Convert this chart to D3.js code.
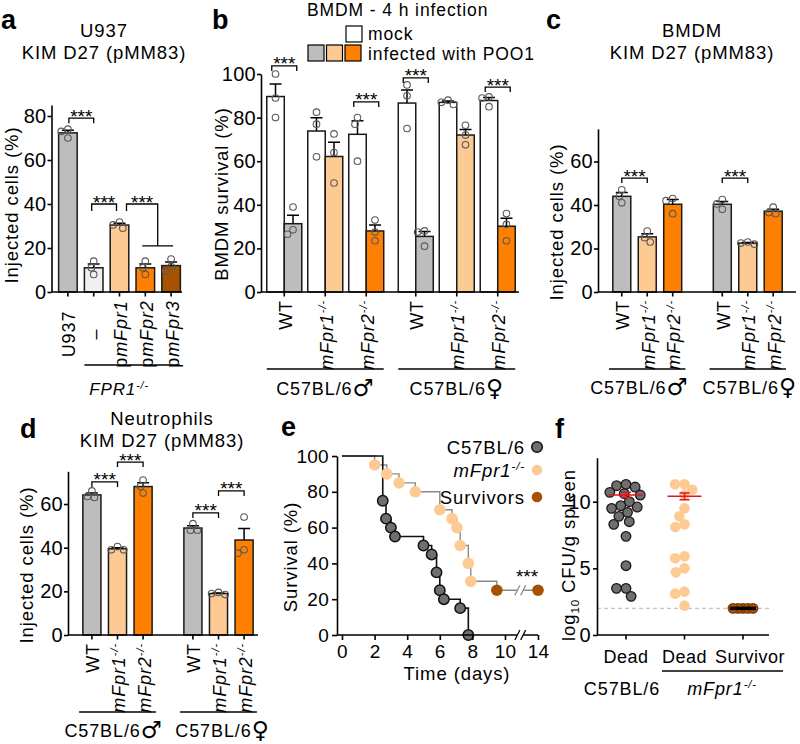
<!DOCTYPE html>
<html><head><meta charset="utf-8">
<script src="https://cdn.jsdelivr.net/npm/d3@7/dist/d3.min.js"></script>
<style>
html,body{margin:0;padding:0;background:#fff;}
svg{display:block;}
svg text{font-family:"Liberation Sans",Arial,Helvetica,sans-serif;letter-spacing:0.9px;}
</style></head><body>
<script>
// ===================== DATA =====================
// panel a
const aCategories = ["U937", "–", "pmFpr1", "pmFpr2", "pmFpr3"];
const aPoints = [[74, 73, 70], [14, 11, 8], [31.8, 30.5, 29], [14, 11, 8], [15, 11.5, 9.5]];
const aTicks = [0, 20, 40, 60, 80];
const aBrackets = [{from: 0, to: 1, level: 79}, {from: 1, to: 2, level: 40}];
const aGroupBracket = {from: 2, group: [3, 4], level: 40, groupLevel: 21};
// panels b, c, d
const sexLabels = ["C57BL/6", "C57BL/6"];
const sexSymbols = ["♂", "♀"];
const genotypes = ["WT", "mFpr1", "mFpr2"];
const bMockPoints = [
  [[100, 89, 80], [82.5, 77, 62], [80, 77, 60]],
  [[95, 90, 75], [88, 87, 86], [89.5, 89, 85]]];
const bInfectedPoints = [
  [[39, 28.5, 26.5], [72.5, 64, 50], [33, 27.5, 23.5]],
  [[28, 27.5, 21], [76.5, 72, 67.5], [36, 31, 23.5]]];
const bTicks = [0, 20, 40, 60, 80, 100];
const bBrackets = [{sex: 0, gen: 0, level: 103.7}, {sex: 0, gen: 2, level: 87.2}, {sex: 1, gen: 0, level: 98.2}, {sex: 1, gen: 2, level: 94}];
const cPoints = [
  [[47, 44, 41], [28, 25, 23], [43, 42, 36]],
  [[42.5, 40.5, 38], [23, 22.5, 22], [39, 36.5, 36]]];
const cTicks = [0, 20, 40, 60];
const cBrackets = [{sex: 0, from: 0, to: 1, level: 52.4}, {sex: 1, from: 0, to: 1, level: 52.4}];
const dPoints = [
  [[66, 63.5, 63], [40.5, 39, 39], [71, 68, 65]],
  [[51, 48, 48], [19.5, 19, 18.5], [54, 39, 37.5]]];
const dTicks = [0, 20, 40, 60];
const dBrackets = [{sex: 0, from: 0, to: 1, level: 70.1}, {sex: 0, from: 1, to: 2, level: 79.2},
                   {sex: 1, from: 0, to: 1, level: 55.9}, {sex: 1, from: 1, to: 2, level: 66}];
// panel e (Kaplan-Meier)
const eTimeTicks = [0, 2, 4, 6, 8, 10, 14];
const eSurvTicks = [0, 20, 40, 60, 80, 100];
const eC57Time = [0, 2.5, 2.7, 3.0, 3.25, 5.0, 5.5, 5.8, 6.0, 6.25, 7.25, 7.75];
const eC57Surv = [100, 75, 65, 60, 55, 50, 45, 35, 25, 20, 15, 0];
const eKoTime = [0, 2, 2.75, 3.5, 4.5, 6, 6.75, 7.05, 7.25, 7.75, 7.9, 9.5, 14];
const eKoSurv = [100, 95, 90, 85, 80, 70, 65, 60, 50, 40, 30, 25, 25];
const eKoSurvivor = [false, false, false, false, false, false, false, false, false, false, false, true, true];
const eBreak = [11.5, 12.2];
// panel f
const fGroups = ["Dead", "Dead", "Survivor"];
const fC57Dead = [11.3, 11.2, 11.1, 10.7, 10.6, 10.5, 10.0, 9.7, 9.6, 9.5, 9.2, 8.9, 8.5, 8.3, 7.4, 5.2, 3.5, 3.5, 2.9];
const fKoDead = [11.3, 11.3, 10.9, 10.5, 9.5, 8.9, 8.3, 8.1, 5.9, 5.75, 5.0, 4.7, 3.25, 3.1, 2.2];
const fKoSurvivor = [2, 2, 2, 2, 2];
const fCenter = [10.5, 10.4, 2.0];
const fCenterSEM = [0.2, 0.25, 0];
const fTicks = [0, 5, 10];
const fDetectionLimit = 2;

// ===================== STYLE =====================
const C = {gray: "#bdbdbd", light: "#f0f0f0", peach: "#fdca93", orange: "#ff8000", brown: "#a65200", dark: "#6f6f6f"};
const genColors = [C.gray, C.peach, C.orange];
const aColors = [C.gray, C.light, C.peach, C.orange, C.brown];
const TICK = 20, TITLE = 18.5, XLAB = 18, YTITLE = 18.5, LETTER = 27;

const svg = d3.select("body").append("svg").attr("width", 800).attr("height", 744);
svg.append("rect").attr("width", 800).attr("height", 744).attr("fill", "#fff");

function label(parent, x, y, segs, o = {}) {
  const t = parent.append("text")
    .attr("transform", `translate(${x},${y})${o.rotate ? " rotate(-90)" : ""}`)
    .attr("text-anchor", o.anchor || "middle")
    .attr("fill", "#000")
    .style("font-size", (o.size || 17) + "px");
  if (o.bold) t.style("font-weight", "bold");
  if (o.ls !== undefined) t.style("letter-spacing", o.ls + "px");
  (typeof segs === "string" ? [{t: segs}] : segs).forEach(s => {
    const ts = t.append("tspan").text(s.t);
    if (s.i) ts.style("font-style", "italic");
    if (s.sup) ts.style("font-size", "62%").attr("dy", "-0.6em");
    if (s.sub) ts.style("font-size", "62%").attr("dy", "4");
    if (s.dy) ts.attr("dy", s.dy);
    if (s.sym) ts.style("font-size", "130%").style("font-family", "'DejaVu Sans',sans-serif").attr("dy", "1");
  });
  return t;
}
function genoSegs(gname) {
  if (gname === "WT") return [{t: "WT"}];
  return [{t: gname, i: 1}, {t: "-/-", i: 1, sup: 1}];
}
function catSegs(c) {
  if (c.startsWith("pm")) return [{t: "p"}, {t: c.slice(1), i: 1}];
  return [{t: c}];
}
function styleAxis(ax, size = TICK) {
  ax.attr("font-family", null).attr("font-size", null);
  ax.select(".domain").attr("stroke", "#000").attr("stroke-width", 1.6);
  ax.selectAll(".tick line").attr("stroke", "#000").attr("stroke-width", 1.6);
  ax.selectAll(".tick text").attr("fill", "#000").style("font-size", size + "px").style("letter-spacing", "0.3px");
  return ax;
}
function yAxis(g, x, scale, ticks, pad = 1, size = 4, fs = TICK) {
  return styleAxis(g.append("g").attr("transform", `translate(${x},0)`)
    .call(d3.axisLeft(scale).tickValues(ticks).tickSize(size).tickSizeOuter(0).tickPadding(pad)), fs);
}
function xAxisLine(g, x0, x1, y0, tickXs) {
  let d = `M${x0},${y0}H${x1}`;
  tickXs.forEach(t => { d += `M${t},${y0}V${y0 + 4.5}`; });
  g.append("path").attr("d", d).attr("stroke", "#000").attr("stroke-width", 1.6).attr("fill", "none");
}
function swarm(values, yScale, diam) {
  const idx = values.map((v, i) => i).sort((a, b) => values[b] - values[a]);
  const placed = [], off = new Array(values.length);
  for (const i of idx) {
    const py = yScale(values[i]);
    const cands = [0];
    for (const p of placed) {
      const dy = py - p.y;
      if (Math.abs(dy) < diam) { const dx = Math.sqrt(diam * diam - dy * dy); cands.push(p.x + dx, p.x - dx); }
    }
    cands.sort((a, b) => Math.abs(a) - Math.abs(b) || a - b);
    let chosen = 0;
    for (const c of cands) {
      if (placed.every(p => (p.x - c) ** 2 + (p.y - py) ** 2 >= diam * diam - 0.01)) { chosen = c; break; }
    }
    placed.push({x: chosen, y: py}); off[i] = chosen;
  }
  return off;
}
function drawBar(g, cx, w, color, pts, y) {
  const m = d3.mean(pts), se = d3.deviation(pts) / Math.sqrt(pts.length);
  g.append("rect").attr("x", cx - w / 2).attr("y", y(m)).attr("width", w).attr("height", y(0) - y(m))
    .attr("fill", color).attr("stroke", "#1a1a1a").attr("stroke-width", 1.5);
  const top = y(m + se);
  g.append("path").attr("d", `M${cx},${y(m)}V${top}M${cx - 6},${top}H${cx + 6}`)
    .attr("stroke", "#000").attr("stroke-width", 1.5).attr("fill", "none");
  const offs = swarm(pts, y, 7);
  g.selectAll(null).data(pts).join("circle")
    .attr("cx", (d, i) => cx + offs[i]).attr("cy", d => y(d)).attr("r", 3.3)
    .attr("fill", "none").attr("stroke", "#5a5a5a").attr("stroke-width", 1.1);
}
function stars(g, x, yl) { label(g, x, yl + 4.5, "***", {size: 19, ls: 0}); }
function bracket(g, x1, x2, yl, tip = 6) {
  g.append("path").attr("d", `M${x1},${yl + tip}V${yl}H${x2}V${yl + tip}`)
    .attr("stroke", "#000").attr("stroke-width", 1.3).attr("fill", "none");
  stars(g, (x1 + x2) / 2, yl);
}
const sexSegs = s => [{t: sexLabels[s]}, {t: sexSymbols[s], sym: 1}];

// ===================== PANEL a =====================
{
  const g = svg.append("g");
  const y = d3.scaleLinear().domain([0, 85]).range([292, 105]);
  const x = d3.scaleBand().domain(aCategories).range([55, 184]).paddingInner(0.28).paddingOuter(0.14);
  const cx = c => x(c) + x.bandwidth() / 2;
  aCategories.forEach((c, i) => drawBar(g, cx(c), x.bandwidth(), aColors[i], aPoints[i], y));
  yAxis(g, 51.5, y, aTicks);
  xAxisLine(g, 51.5, 182, y(0), aCategories.map(cx));
  aBrackets.forEach((b, k) => bracket(g, cx(aCategories[b.from]) + (k ? -2 : 1), cx(aCategories[b.to]) + (k ? -3 : 0), y(b.level), k ? 7 : 5));
  {
    const b = aGroupBracket;
    const x1 = cx(aCategories[b.from]) + 7;
    const gx1 = cx(aCategories[b.group[0]]) - 3, gx2 = cx(aCategories[b.group[1]]) + 2;
    const x2 = (gx1 + gx2) / 2;
    g.append("path").attr("d", `M${x1},${y(b.level) + 7}V${y(b.level)}H${x2}V${y(b.groupLevel)}M${gx1},${y(b.groupLevel)}H${gx2}`)
      .attr("stroke", "#000").attr("stroke-width", 1.3).attr("fill", "none");
    stars(g, (x1 + x2) / 2, y(b.level));
  }
  aCategories.forEach(c => label(g, cx(c) + 7.5, 334, catSegs(c), {rotate: true, size: XLAB}));
  g.append("line").attr("x1", x(aCategories[1])).attr("x2", 180).attr("y1", 365).attr("y2", 365).attr("stroke", "#000").attr("stroke-width", 1.3);
  label(g, 119, 395, [{t: "FPR1", i: 1}, {t: "-/-", i: 1, sup: 1}], {size: 17});
  label(g, 1, 29, "a", {anchor: "start", bold: true, size: LETTER, ls: 0});
  label(g, 104, 37, "U937", {size: TITLE});
  label(g, 104, 59, "KIM D27 (pMM83)", {size: TITLE});
  label(g, 18, 205, "Injected cells (%)", {rotate: true, size: YTITLE});
}

// ===================== PANEL b =====================
{
  const g = svg.append("g");
  const y = d3.scaleLinear().domain([0, 100]).range([292, 74]);
  const xs = d3.scaleBand().domain(d3.range(2)).range([262, 520]).paddingInner(0.065).paddingOuter(0.0135);
  const xg = d3.scaleBand().domain(d3.range(3)).range([0, xs.bandwidth()]).paddingInner(0.146).paddingOuter(0.073);
  const xc = d3.scaleBand().domain(["mock", "inf"]).range([0, xg.bandwidth()]);
  const pairStart = (s, k) => xs(s) + xg(k);
  const ticks = [];
  for (let s = 0; s < 2; s++) for (let k = 0; k < 3; k++) {
    const p0 = pairStart(s, k);
    drawBar(g, p0 + xc("mock") + xc.bandwidth() / 2, xc.bandwidth(), "#fff", bMockPoints[s][k], y);
    drawBar(g, p0 + xc("inf") + xc.bandwidth() / 2, xc.bandwidth(), genColors[k], bInfectedPoints[s][k], y);
    ticks.push(p0 + xg.bandwidth() / 2);
  }
  yAxis(g, 261, y, bTicks);
  xAxisLine(g, 261, 519, y(0), ticks);
  bBrackets.forEach(b => {
    const p0 = pairStart(b.sex, b.gen);
    bracket(g, p0 + 5, p0 + xg.bandwidth() - 5, y(b.level), 5);
  });
  for (let s = 0; s < 2; s++) {
    for (let k = 0; k < 3; k++) label(g, pairStart(s, k) + xg.bandwidth() / 2 + 7.5, 300, genoSegs(genotypes[k]), {rotate: true, anchor: "end", size: XLAB});
    g.append("line").attr("x1", pairStart(s, 0)).attr("x2", pairStart(s, 2) + xg.bandwidth())
      .attr("y1", 369).attr("y2", 369).attr("stroke", "#000").attr("stroke-width", 1.3);
    label(g, xs(s) + xs.bandwidth() / 2, 395, sexSegs(s), {size: 18});
  }
  label(g, 212, 29, "b", {anchor: "start", bold: true, size: LETTER, ls: 0});
  label(g, 307, 16, "BMDM - 4 h infection", {anchor: "start", size: 17.5});
  // legend
  g.append("rect").attr("x", 346).attr("y", 26).attr("width", 16).attr("height", 16).attr("fill", "#fff").attr("stroke", "#000").attr("stroke-width", 1.2);
  genColors.forEach((c, i) => g.append("rect").attr("x", 308 + i * 18.5).attr("y", 45).attr("width", 16).attr("height", 16)
    .attr("fill", c).attr("stroke", "#000").attr("stroke-width", 1.2));
  label(g, 368, 39.5, "mock", {anchor: "start", size: 17.5});
  label(g, 368, 59.5, "infected with POO1", {anchor: "start", size: 17.5});
  label(g, 228, 194, "BMDM survival (%)", {rotate: true, size: YTITLE});
}

// ===================== PANELS c & d =====================
function tripletPanel(o) {
  const g = svg.append("g");
  const y = d3.scaleLinear().domain([0, 75]).range([o.y0, o.y0 - 75 * o.k]);
  const xs = d3.scaleBand().domain(d3.range(2)).range(o.xr).paddingInner(0.24).paddingOuter(0.11);
  const xg = d3.scaleBand().domain(d3.range(3)).range([0, xs.bandwidth()]).paddingInner(0.294).paddingOuter(0.147);
  const cx = (s, k) => xs(s) + xg(k) + xg.bandwidth() / 2;
  const ticks = [];
  for (let s = 0; s < 2; s++) for (let k = 0; k < 3; k++) {
    drawBar(g, cx(s, k), xg.bandwidth(), genColors[k], o.points[s][k], y);
    ticks.push(cx(s, k));
  }
  yAxis(g, o.axisX, y, o.ticks);
  xAxisLine(g, o.axisX, o.axisEnd, y(0), ticks);
  o.brackets.forEach(b => bracket(g, cx(b.sex, b.from), cx(b.sex, b.to), y(b.level), 5));
  for (let s = 0; s < 2; s++) {
    for (let k = 0; k < 3; k++) label(g, cx(s, k) + 7.5, o.y0 + 8, genoSegs(genotypes[k]), {rotate: true, anchor: "end", size: XLAB});
    g.append("line").attr("x1", xs(s)).attr("x2", xs(s) + xs.bandwidth())
      .attr("y1", o.y0 + 77).attr("y2", o.y0 + 77).attr("stroke", "#000").attr("stroke-width", 1.3);
    label(g, xs(s) + xs.bandwidth() / 2 + o.labelShift[s], o.y0 + 102, sexSegs(s), {size: 18});
  }
  return g;
}
{
  const g = tripletPanel({y0: 292, k: 2.175, xr: [598, 797], axisX: 598, axisEnd: 796, points: cPoints, ticks: cTicks, brackets: cBrackets, labelShift: [-8, 2]});
  label(g, 546, 29, "c", {anchor: "start", bold: true, size: LETTER, ls: 0});
  label(g, 692, 37, "BMDM", {size: TITLE});
  label(g, 692, 59, "KIM D27 (pMM83)", {size: TITLE});
  label(g, 563, 222, "Injected cells (%)", {rotate: true, size: YTITLE});
}
{
  const g = tripletPanel({y0: 635, k: 2.183, xr: [68, 268], axisX: 68, axisEnd: 258, points: dPoints, ticks: dTicks, brackets: dBrackets, labelShift: [-4, 4]});
  label(g, 20, 438, "d", {anchor: "start", bold: true, size: LETTER, ls: 0});
  label(g, 162, 425, "Neutrophils", {size: TITLE});
  label(g, 162, 447, "KIM D27 (pMM83)", {size: TITLE});
  label(g, 33, 565, "Injected cells (%)", {rotate: true, size: YTITLE});
}

// ===================== PANEL e =====================
{
  const g = svg.append("g");
  const x = d3.scaleLinear().domain([0, 10, 14]).range([342, 505, 538]);
  const y = d3.scaleLinear().domain([0, 100]).range([635, 456]);
  const line = d3.line().x(d => x(d[0])).y(d => y(d[1])).curve(d3.curveStepAfter);
  const c57 = eC57Time.map((t, i) => [t, eC57Surv[i]]);
  const ko = eKoTime.map((t, i) => [t, eKoSurv[i]]);
  g.append("path").attr("d", line(ko)).attr("fill", "none").attr("stroke", "#8a8a8a").attr("stroke-width", 1.4);
  g.append("path").attr("d", line(c57)).attr("fill", "none").attr("stroke", "#111").attr("stroke-width", 1.6);
  const bx0 = x(eBreak[0]), bx1 = x(eBreak[1]);
  const ly = y(eKoSurv[eKoSurv.length - 1]);
  g.append("rect").attr("x", bx0).attr("y", ly - 4).attr("width", bx1 - bx0).attr("height", 8).attr("fill", "#fff");
  const slash = (bx, by, col) => g.append("line").attr("x1", bx - 2.5).attr("x2", bx + 2.5).attr("y1", by + 5).attr("y2", by - 5).attr("stroke", col).attr("stroke-width", 1.3);
  slash(bx0, ly, "#8a8a8a"); slash(bx1, ly, "#8a8a8a");
  g.selectAll(null).data(ko.slice(1)).join("circle")
    .attr("cx", d => x(d[0])).attr("cy", d => y(d[1])).attr("r", 5.8)
    .attr("fill", (d, i) => eKoSurvivor[i + 1] ? C.brown : C.peach);
  g.selectAll(null).data(c57.slice(1)).join("circle")
    .attr("cx", d => x(d[0])).attr("cy", d => y(d[1])).attr("r", 5.2)
    .attr("fill", C.dark).attr("stroke", "#111").attr("stroke-width", 1.5);
  yAxis(g, 337, y, eSurvTicks, 3, 5, 19);
  const xa = styleAxis(g.append("g").attr("transform", `translate(0,${y(0)})`)
    .call(d3.axisBottom(x).tickValues(eTimeTicks).tickFormat(d3.format("d")).tickSize(5).tickPadding(5)), 19);
  xa.select(".domain").remove();
  g.append("path").attr("d", `M337,${y(0)}H${bx0}M${bx1},${y(0)}H${x(14)}`).attr("stroke", "#000").attr("stroke-width", 1.6);
  slash(bx0, y(0), "#000"); slash(bx1, y(0), "#000");
  stars(g, 527, 578);
  const legItems = [
    {segs: [{t: "C57BL/6"}], fill: C.dark, stroke: "#111", yy: 447},
    {segs: [{t: "mFpr1", i: 1}, {t: "-/-", i: 1, sup: 1}], fill: C.peach, stroke: "none", yy: 470},
    {segs: [{t: "Survivors"}], fill: C.brown, stroke: "none", yy: 497}];
  legItems.forEach(it => {
    label(g, 525, it.yy + 6.5, it.segs, {anchor: "end", size: 18.5});
    g.append("circle").attr("cx", 537).attr("cy", it.yy).attr("r", 5.3).attr("fill", it.fill).attr("stroke", it.stroke).attr("stroke-width", 1.5);
  });
  label(g, 281, 436, "e", {anchor: "start", bold: true, size: LETTER, ls: 0});
  label(g, 457, 680, "Time (days)", {size: 18.5});
  label(g, 297, 557, "Survival (%)", {rotate: true, size: YTITLE});
}

// ===================== PANEL f =====================
{
  const g = svg.append("g");
  const y = d3.scaleLinear().domain([0, 13.3]).range([635, 457.7]);
  const x = d3.scalePoint().domain(d3.range(3)).range([626, 743]);
  g.append("line").attr("x1", 597).attr("x2", 769).attr("y1", y(fDetectionLimit)).attr("y2", y(fDetectionLimit))
    .attr("stroke", "#c4c4c4").attr("stroke-width", 1.2).attr("stroke-dasharray", "4,3");
  const groups = [
    {vals: fC57Dead, fill: C.dark, stroke: "#1a1a1a", r: 4.8, diam: 9.5},
    {vals: fKoDead, fill: C.peach, stroke: "none", r: 5.3, diam: 9.5},
    {vals: fKoSurvivor, fill: C.brown, stroke: "#7a3a00", r: 4.8, diam: 5}];
  groups.forEach((gr, gi) => {
    const offs = swarm(gr.vals, y, gr.diam);
    g.selectAll(null).data(gr.vals).join("circle")
      .attr("cx", (d, i) => x(gi) + offs[i]).attr("cy", d => y(d)).attr("r", gr.r)
      .attr("fill", gr.fill).attr("stroke", gr.stroke).attr("stroke-width", 1.3);
  });
  fCenter.forEach((m, i) => {
    const cx = x(i);
    if (i < 2) {
      g.append("path").attr("d", `M${cx - 17},${y(m)}H${cx + 17}M${cx},${y(m - fCenterSEM[i])}V${y(m + fCenterSEM[i])}M${cx - 5},${y(m - fCenterSEM[i])}H${cx + 5}M${cx - 5},${y(m + fCenterSEM[i])}H${cx + 5}`)
        .attr("stroke", "#e3161b").attr("stroke-width", 1.5).attr("fill", "none");
    } else {
      g.append("line").attr("x1", cx - 13).attr("x2", cx + 13).attr("y1", y(m)).attr("y2", y(m)).attr("stroke", "#000").attr("stroke-width", 3.5);
    }
  });
  yAxis(g, 597, y, fTicks, 2, 4);
  xAxisLine(g, 597, 769, y(0), d3.range(3).map(x));
  const fShift = [0, 0, 7];
  fGroups.forEach((t, i) => label(g, x(i) + fShift[i], 663, t, {size: 18, ls: 0.5}));
  g.append("line").attr("x1", 662).attr("x2", 783).attr("y1", 671).attr("y2", 671).attr("stroke", "#000").attr("stroke-width", 1.3);
  label(g, x(0) - 4, 695, "C57BL/6", {size: 18});
  label(g, 722, 695, [{t: "mFpr1", i: 1}, {t: "-/-", i: 1, sup: 1}], {size: 18});
  label(g, 555, 438, "f", {anchor: "start", bold: true, size: LETTER, ls: 0});
  label(g, 575, 555, [{t: "log"}, {t: "10", sub: 1}, {t: " CFU/g spleen", dy: "-4"}], {rotate: true, size: YTITLE});
}
</script>
</body></html>
